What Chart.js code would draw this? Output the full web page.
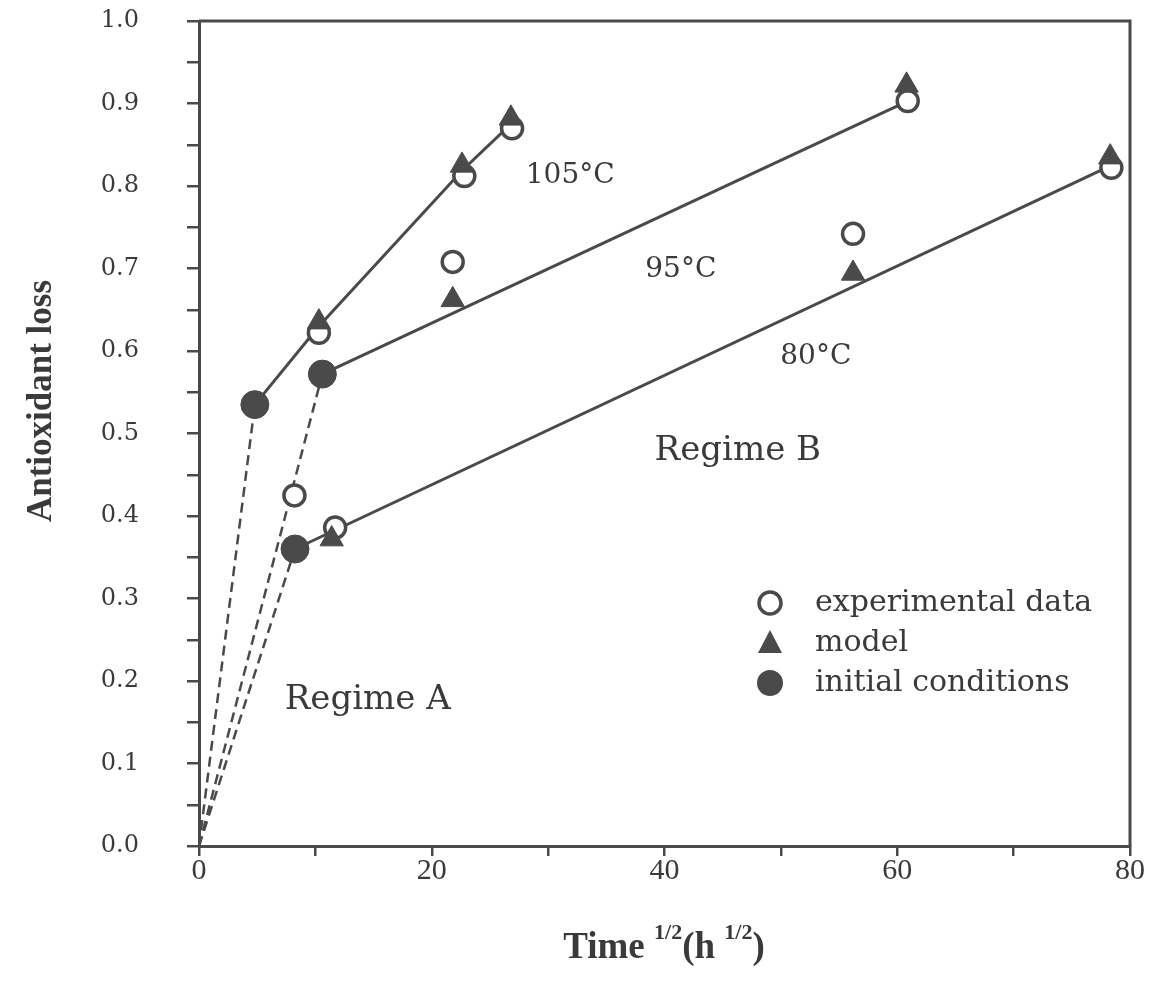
<!DOCTYPE html>
<html><head><meta charset="utf-8">
<script src="https://cdn.jsdelivr.net/npm/chart.js@4.4.1/dist/chart.umd.min.js"></script>
<style>html,body{margin:0;padding:0;background:#fff}canvas{display:block}</style>
</head><body>
<canvas id="c" width="1153" height="985"></canvas>
<script>
// ---- data ----
const xTickLabels = [0, 20, 40, 60, 80];
const yTickLabels = ['0.0','0.1','0.2','0.3','0.4','0.5','0.6','0.7','0.8','0.9','1.0'];

// experimental data (open circles)
const exp105 = [[10.3, 0.622], [22.8, 0.812], [26.9, 0.870]];
const exp95  = [[8.2, 0.425], [21.8, 0.708], [60.9, 0.903]];
const exp80  = [[11.7, 0.386], [56.2, 0.742], [78.4, 0.822]];

// model (triangles)
const mod105 = [[10.3, 0.635], [22.6, 0.825], [26.8, 0.882]];
const mod95  = [[21.8, 0.662], [60.8, 0.922]];
const mod80  = [[11.4, 0.372], [56.2, 0.694], [78.3, 0.835]];

// initial conditions (filled circles)
const init105 = [4.8, 0.535];
const init95  = [10.6, 0.572];
const init80  = [8.25, 0.360];

// fitted lines (regime B) and extrapolation to origin (regime A)
const line105 = [init105, [10.3, 0.630], [22.7, 0.820], [26.8, 0.875]];
const line95  = [init95, [60.9, 0.903]];
const line80  = [init80, [78.4, 0.825]];
const origin  = [0, 0];

// ---- rendering ----
const INK = '#4a4a4a';
const TXT = '#3a3a3a';
const pts = a => a.map(p => ({x: p[0], y: p[1]}));

const lineDs = (arr, dashed) => ({
  data: pts(arr), showLine: true, pointRadius: 0, borderColor: INK,
  borderWidth: dashed ? 2.5 : 3, borderDash: dashed ? [10, 6] : [], fill: false, order: 10
});
const expDs = arr => ({
  data: pts(arr), pointStyle: 'circle', pointRadius: 10.5, borderWidth: 3.5,
  pointBorderColor: INK, pointBackgroundColor: '#fff', showLine: false, order: 3
});
const modDs = arr => ({
  data: pts(arr), pointStyle: 'triangle', pointRadius: 13.5, borderWidth: 1,
  pointBorderColor: INK, pointBackgroundColor: INK, showLine: false, order: 2
});

const datasets = [
  lineDs([origin, init105], true), lineDs([origin, init95], true), lineDs([origin, init80], true),
  lineDs(line105, false), lineDs(line95, false), lineDs(line80, false),
  expDs(exp105), expDs(exp95), expDs(exp80),
  modDs(mod105), modDs(mod95), modDs(mod80),
  { data: pts([init105, init95, init80]), pointStyle: 'circle', pointRadius: 14, borderWidth: 1,
    pointBorderColor: INK, pointBackgroundColor: INK, showLine: false, order: 1 }
];

const annotations = [
  ['105°C', 31.9, 0.812, 28],
  ['95°C', 41.4, 0.698, 28],
  ['80°C', 53.0, 0.593, 28],
  ['Regime B', 46.3, 0.478, 34],
  ['Regime A', 14.5, 0.177, 34]
];

const decor = {
  id: 'decor',
  afterDraw(chart) {
    const ctx = chart.ctx, ca = chart.chartArea, sx = chart.scales.x, sy = chart.scales.y;
    ctx.save();
    // frame top / right
    ctx.strokeStyle = INK; ctx.lineWidth = 3;
    ctx.beginPath();
    ctx.moveTo(ca.left, ca.top); ctx.lineTo(ca.right, ca.top); ctx.lineTo(ca.right, ca.bottom);
    ctx.stroke();
    // annotations
    ctx.fillStyle = TXT; ctx.textAlign = 'center'; ctx.textBaseline = 'middle';
    annotations.forEach(([t, x, y, fs]) => {
      ctx.font = fs + 'px "DejaVu Serif"';
      ctx.fillText(t, sx.getPixelForValue(x), sy.getPixelForValue(y));
    });
    // legend
    const lx = 770, ly = [603, 643, 683];
    ctx.strokeStyle = INK; ctx.fillStyle = INK;
    ctx.lineWidth = 3.5;
    ctx.beginPath(); ctx.arc(lx, ly[0], 11, 0, Math.PI * 2); ctx.stroke();
    ctx.beginPath();
    ctx.moveTo(lx, ly[1] - 13); ctx.lineTo(lx + 12, ly[1] + 10); ctx.lineTo(lx - 12, ly[1] + 10); ctx.closePath(); ctx.fill();
    ctx.beginPath(); ctx.arc(lx, ly[2], 13, 0, Math.PI * 2); ctx.fill();
    ctx.fillStyle = TXT; ctx.textAlign = 'left';
    ctx.font = '30px "DejaVu Serif"';
    ['experimental data', 'model', 'initial conditions'].forEach((t, i) => ctx.fillText(t, 815, ly[i]));
    // y title
    ctx.save();
    ctx.translate(42, 401); ctx.rotate(-Math.PI / 2);
    ctx.font = 'bold 35px "Liberation Serif"'; ctx.textAlign = 'center'; ctx.textBaseline = 'middle';
    ctx.fillText('Antioxidant loss', 0, 0);
    ctx.restore();
    // x title: Time^{1/2}(h^{1/2})
    const parts = [['Time ', false], ['1/2', true], ['(h ', false], ['1/2', true], [')', false]];
    const bigF = 'bold 37px "Liberation Serif"', smallF = 'bold 22px "Liberation Serif"';
    let total = 0;
    parts.forEach(([t, s]) => { ctx.font = s ? smallF : bigF; total += ctx.measureText(t).width; });
    let x = 664 - total / 2; const base = 958;
    ctx.textBaseline = 'alphabetic'; ctx.textAlign = 'left';
    parts.forEach(([t, s]) => {
      ctx.font = s ? smallF : bigF;
      ctx.fillText(t, x, s ? base - 19 : base);
      x += ctx.measureText(t).width;
    });
    ctx.restore();
  }
};

const isTenth = v => Math.abs(v * 10 - Math.round(v * 10)) < 1e-6;
const noPad = s => { s.paddingTop = 0; s.paddingBottom = 0; s.paddingLeft = 0; s.paddingRight = 0; };

new Chart(document.getElementById('c'), {
  type: 'scatter',
  data: { datasets },
  options: {
    responsive: false, animation: false,
    layout: { padding: { top: 21, right: 23, left: 0, bottom: 0 } },
    plugins: { legend: { display: false }, tooltip: { enabled: false } },
    scales: {
      x: {
        type: 'linear', min: 0, max: 80,
        ticks: {
          stepSize: 10, autoSkip: false, maxRotation: 0, padding: -3, color: TXT,
          font: { family: 'Liberation Serif', size: 30 },
          callback: v => xTickLabels.includes(v) ? String(v) : ''
        },
        grid: { drawOnChartArea: false, drawTicks: true, tickLength: 10, color: INK, lineWidth: 2.5 },
        border: { color: INK, width: 3 },
        afterFit: s => { s.height = 139; noPad(s); }
      },
      y: {
        type: 'linear', min: 0, max: 1,
        ticks: {
          stepSize: 0.05, autoSkip: false, padding: 48, color: TXT,
          font: { family: 'DejaVu Serif', size: 24 },
          callback: v => isTenth(v) ? yTickLabels[Math.round(v * 10)] : ''
        },
        grid: { drawOnChartArea: false, drawTicks: true, tickLength: 12, color: INK, lineWidth: 2.5 },
        border: { color: INK, width: 3 },
        afterFit: s => { s.width = 199; noPad(s); }
      }
    }
  },
  plugins: [decor]
});
</script>
</body></html>
